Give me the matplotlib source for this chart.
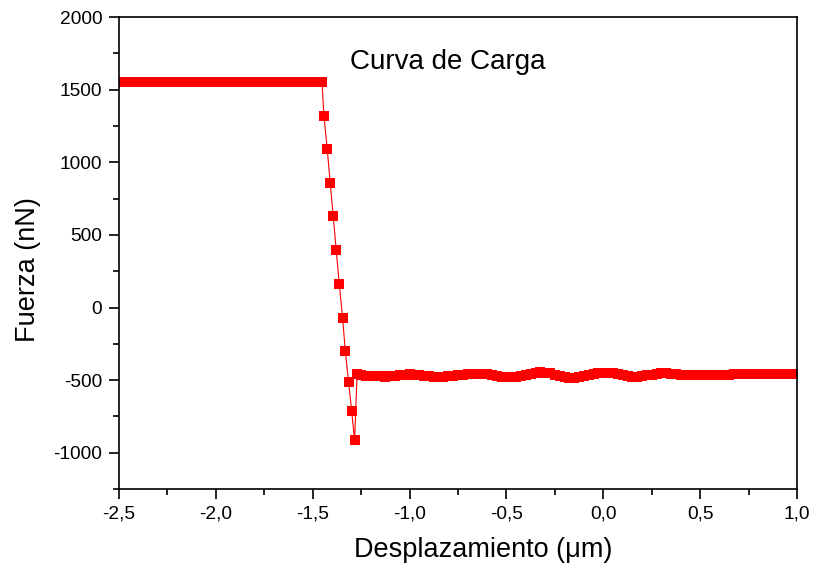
import matplotlib
matplotlib.use('Agg')
import matplotlib.pyplot as plt
from matplotlib.ticker import MultipleLocator, FuncFormatter

plt.rcParams['font.family'] = ['Liberation Sans', 'DejaVu Sans']

# flat part before contact (um, nN)
flat_x = [-2.500, -2.475, -2.450, -2.425, -2.400, -2.375, -2.350, -2.325, -2.300, -2.275,
          -2.250, -2.225, -2.200, -2.175, -2.150, -2.125, -2.100, -2.075, -2.050, -2.025,
          -2.000, -1.975, -1.950, -1.925, -1.900, -1.875, -1.850, -1.825, -1.800, -1.775,
          -1.750, -1.725, -1.700, -1.675, -1.650, -1.625, -1.600, -1.575, -1.550, -1.525,
          -1.500, -1.475]
flat_y = [1550, 1550, 1550, 1550, 1550, 1550, 1550, 1550, 1550, 1550,
          1550, 1550, 1550, 1550, 1550, 1550, 1550, 1550, 1550, 1550,
          1550, 1550, 1550, 1550, 1550, 1550, 1550, 1550, 1550, 1550,
          1550, 1550, 1550, 1550, 1550, 1550, 1550, 1550, 1550, 1550,
          1550, 1550]

# steep loading part
steep_x = [-1.452, -1.442, -1.425, -1.410, -1.394, -1.379, -1.363, -1.346, -1.332,
           -1.315, -1.299, -1.284, -1.271]
steep_y = [1550, 1317, 1090, 860, 628, 397, 163, -69, -296, -514, -711, -915, -455]

# wavy part after snap
wave_x = [-1.250, -1.225, -1.200, -1.175, -1.150, -1.125, -1.100, -1.075, -1.050, -1.025,
          -1.000, -0.975, -0.950, -0.925, -0.900, -0.875, -0.850, -0.825, -0.800, -0.775,
          -0.750, -0.725, -0.700, -0.675, -0.650, -0.625, -0.600, -0.575, -0.550, -0.525,
          -0.500, -0.475, -0.450, -0.425, -0.400, -0.375, -0.350, -0.325, -0.300, -0.275,
          -0.250, -0.225, -0.200, -0.175, -0.150, -0.125, -0.100, -0.075, -0.050, -0.025,
          0.000, 0.025, 0.050, 0.075, 0.100, 0.125, 0.150, 0.175, 0.200, 0.225,
          0.250, 0.275, 0.300, 0.325, 0.350, 0.375, 0.400, 0.425, 0.450, 0.475,
          0.500, 0.525, 0.550, 0.575, 0.600, 0.625, 0.650, 0.675, 0.700, 0.725,
          0.750, 0.775, 0.800, 0.825, 0.850, 0.875, 0.900, 0.925, 0.950, 0.975,
          1.000]
wave_y = [-468, -469, -471, -473, -474, -475, -474, -471, -467, -463,
          -461, -462, -465, -469, -473, -476, -478, -477, -474, -470,
          -466, -462, -458, -456, -455, -456, -459, -464, -470, -475,
          -479, -480, -478, -472, -464, -455, -448, -446, -448, -454,
          -462, -471, -479, -484, -485, -481, -474, -465, -457, -452,
          -450, -451, -454, -459, -465, -471, -475, -476, -473, -468,
          -462, -457, -454, -454, -456, -459, -463, -466, -468, -468,
          -467, -465, -463, -462, -462, -462, -462, -461, -461, -461,
          -461, -461, -461, -461, -461, -461, -461, -461, -461, -461,
          -461]

x = flat_x + steep_x + wave_x
y = flat_y + steep_y + wave_y

fig = plt.figure(figsize=(8.15, 5.7), dpi=100)
ax = fig.add_axes([0.146, 0.142, 0.832, 0.828])

ax.plot(x, y, color='red', lw=0.8, marker='s', markersize=7, markeredgewidth=0)

ax.set_xlim(-2.5, 1.0)
ax.set_ylim(-1250, 2000)
ax.xaxis.set_major_locator(MultipleLocator(0.5))
ax.xaxis.set_minor_locator(MultipleLocator(0.25))
ax.yaxis.set_major_locator(MultipleLocator(500))
ax.yaxis.set_minor_locator(MultipleLocator(250))
ax.xaxis.set_major_formatter(FuncFormatter(lambda v, p: ('%.1f' % v).replace('.', ',')))
ax.yaxis.set_major_formatter(FuncFormatter(lambda v, p: '%d' % v))

ax.tick_params(which='both', direction='out', top=False, right=False,
               labelsize=13.8, width=1.2)
ax.tick_params(which='major', length=7, pad=5)
ax.tick_params(which='minor', length=4.5)
for s in ax.spines.values():
    s.set_linewidth(1.2)

ax.set_xlabel('Desplazamiento (\u03bcm)', fontsize=19.5, labelpad=10, x=0.537)
ax.set_ylabel('Fuerza (nN)', fontsize=19.5, labelpad=9, y=0.466)
ax.text(-1.31, 1690, 'Curva de Carga', fontsize=20, va='center', ha='left')

fig.savefig('out.png', dpi=100)
